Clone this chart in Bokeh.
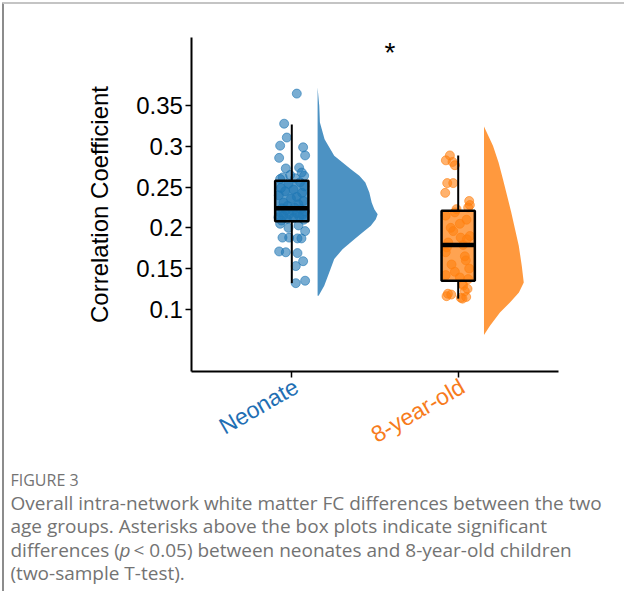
from bokeh.plotting import figure
from bokeh.models import Range1d, FixedTicker
from bokeh.embed import file_html
from bokeh.resources import INLINE
from bokeh.core.properties import value

# ---------------- data ----------------
groups = ["Neonate", "8-year-old"]
group_pos = [1, 2]
group_colors = ["#1f77b4", "#ff7f0e"]
label_colors = ["#1f6fb4", "#f77b1c"]

neonate_values = [0.365, 0.328, 0.311, 0.301, 0.299, 0.289, 0.286, 0.274, 0.273, 0.268,
                  0.265, 0.264, 0.262, 0.261, 0.260,
                  0.256, 0.254, 0.251, 0.249, 0.247, 0.245, 0.243, 0.240, 0.238, 0.236,
                  0.233, 0.231, 0.229, 0.227, 0.225, 0.224,
                  0.223, 0.222, 0.221, 0.220, 0.219, 0.218, 0.217, 0.216, 0.215, 0.214,
                  0.213, 0.212, 0.211, 0.210, 0.209,
                  0.205, 0.203, 0.200, 0.196, 0.188, 0.188, 0.187, 0.187, 0.171, 0.170,
                  0.169, 0.159, 0.153, 0.135, 0.132]
neonate_jitter = [0.030, -0.046, -0.030, -0.070, 0.068, 0.080, -0.076, 0.044, -0.036, 0.060,
                  -0.010, 0.074, -0.055, 0.020, -0.070,
                  0.050, -0.020, 0.075, -0.065, 0.010, -0.040, 0.062, -0.078, 0.030, -0.005,
                  0.070, -0.050, 0.040, -0.025, 0.015, -0.060,
                  0.055, -0.035, 0.005, 0.078, -0.072, 0.030, -0.015, 0.065, -0.050, 0.045,
                  -0.080, 0.010, -0.030, 0.072, -0.062,
                  -0.070, 0.040, -0.020, 0.080, -0.056, -0.016, 0.034, 0.058, -0.076, -0.036,
                  0.034, 0.068, 0.024, 0.080, 0.024]

child_values = [0.289, 0.283, 0.281, 0.277, 0.255, 0.255, 0.243, 0.233, 0.228, 0.225, 0.223,
                0.219, 0.215, 0.210, 0.205, 0.200, 0.196, 0.190, 0.188, 0.186, 0.182,
                0.179,
                0.176, 0.170, 0.165, 0.160, 0.155, 0.150, 0.146, 0.142, 0.139, 0.137,
                0.131, 0.129, 0.125, 0.122, 0.119, 0.118, 0.116, 0.114, 0.113, 0.115]
child_jitter = [-0.050, -0.074, -0.034, -0.020, -0.066, -0.030, -0.078, 0.066, 0.070, 0.060, -0.010,
                -0.020, -0.075, 0.050, 0.010, -0.045, -0.030, 0.070, 0.015, 0.052, -0.060,
                0.030,
                -0.068, -0.075, 0.040, 0.046, -0.040, 0.066, -0.020, -0.075, 0.010, 0.060,
                0.026, 0.030, 0.056, 0.040, -0.062, -0.042, -0.070, 0.016, 0.026, 0.048]

# box statistics
box_low = [0.132, 0.113]
box_q1 = [0.208, 0.135]
box_med = [0.224, 0.179]
box_q3 = [0.258, 0.221]
box_high = [0.327, 0.289]

# half-violin outlines (value, half width in x units)
neonate_density_y = [0.3725, 0.350, 0.3295, 0.309, 0.2886, 0.2721, 0.264, 0.2558, 0.2435, 0.2312,
                     0.223, 0.2168, 0.2107, 0.2026, 0.1944, 0.1861, 0.1738, 0.1616, 0.1452,
                     0.1289, 0.1166]
neonate_density_w = [0.0, 0.010, 0.014, 0.042, 0.100, 0.200, 0.251, 0.287, 0.311, 0.325,
                     0.341, 0.361, 0.350, 0.320, 0.270, 0.221, 0.150, 0.100, 0.070,
                     0.040, 0.006]
child_density_y = [0.3246, 0.3009, 0.2800, 0.2598, 0.2189, 0.178, 0.1534, 0.1329, 0.1206,
                   0.1083, 0.0961, 0.0797, 0.0682]
child_density_w = [0.0, 0.054, 0.088, 0.114, 0.164, 0.209, 0.227, 0.239, 0.210,
                   0.156, 0.096, 0.036, 0.0]

ytick_values = [0.1, 0.15, 0.2, 0.25, 0.3, 0.35]
ytick_labels = ["0.1", "0.15", "0.2", "0.25", "0.3", "0.35"]
y_label = "Correlation Coefficient"
x_limits = (0.4, 2.6)
y_limits = (0.0236, 0.434)

signif_label = "*"
signif_x = 1.59
signif_y = 0.4155

caption_title = "FIGURE 3"
caption_lines = [
    "Overall intra-network white matter FC differences between the two",
    "age groups. Asterisks above the box plots indicate significant",
]
caption_line3 = ["differences (", "p", "< 0.05) between neonates and 8-year-old children"]
caption_line4 = "(two-sample T-test)."

# ---------------- canvas geometry (page pixels -> data) ----------------
FIG_W, FIG_H = 624, 591
XL, XR = -0.7506, 2.9994
YB, YT = -0.24697, 0.47943


def px2x(px):
    return XL + (px - 8) * (XR - XL) / FIG_W


def py2y(py):
    return YT - (py - 8) * (YT - YB) / FIG_H


FONT = "Liberation Sans"
p = figure(width=FIG_W, height=FIG_H, x_range=Range1d(XL, XR), y_range=Range1d(YB, YT),
           output_backend="svg", toolbar_location=None, min_border=0)
p.grid.visible = False
p.outline_line_color = None
p.background_fill_color = "white"
p.border_fill_color = "white"

for ax in (p.xaxis[0], p.yaxis[0]):
    ax.axis_line_width = 2
    ax.axis_line_color = "black"
    ax.major_tick_line_width = 1.5
    ax.major_tick_line_color = "black"
    ax.major_tick_out = 6
    ax.major_tick_in = 0
    ax.minor_tick_line_color = None
    ax.major_label_text_font = FONT
    ax.major_label_text_font_size = "24px"
    ax.major_label_text_color = "black"

p.yaxis.fixed_location = x_limits[0]
p.yaxis.bounds = y_limits
p.yaxis.ticker = FixedTicker(ticks=ytick_values)
p.yaxis.major_label_overrides = {v: l for v, l in zip(ytick_values, ytick_labels)}
p.yaxis.major_label_standoff = 3
p.yaxis.axis_label = y_label
p.yaxis.axis_label_text_font = FONT
p.yaxis.axis_label_text_font_size = "24px"
p.yaxis.axis_label_text_font_style = "normal"
p.yaxis.axis_label_text_color = "black"
p.yaxis.axis_label_standoff = 20

p.xaxis.fixed_location = y_limits[0]
p.xaxis.bounds = x_limits
p.xaxis.ticker = FixedTicker(ticks=group_pos)
p.xaxis.major_label_overrides = {g: "" for g in group_pos}

# figure frame border lines (grey, as in the source page)
p.segment(x0=[px2x(10.5)], y0=[py2y(10)], x1=[px2x(10.5)], y1=[py2y(607)],
          line_color="#8c8c8c", line_width=2)
p.segment(x0=[px2x(10)], y0=[py2y(10.5)], x1=[px2x(640)], y1=[py2y(10.5)],
          line_color="#c4c4c4", line_width=2)

violin_offset = 0.155
box_half = 0.1

sets = [(neonate_values, neonate_jitter, neonate_density_y, neonate_density_w),
        (child_values, child_jitter, child_density_y, child_density_w)]

for i, (vals, jit, dy, dw) in enumerate(sets):
    pos = group_pos[i]
    col = group_colors[i]
    base = pos + violin_offset
    xs = [base + w for w in dw]
    p.patch(x=[base] + xs + [base], y=[dy[0]] + dy + [dy[-1]],
            fill_color=col, fill_alpha=0.8, line_color=None)
    p.scatter(x=[pos + j for j in jit], y=vals, size=9, marker="circle",
              fill_color=col, fill_alpha=0.6, line_color=col, line_alpha=0.6)
    p.segment(x0=[pos, pos], y0=[box_low[i], box_q3[i]], x1=[pos, pos], y1=[box_q1[i], box_high[i]],
              line_color="black", line_width=2)
    p.quad(left=[pos - box_half], right=[pos + box_half], bottom=[box_q1[i]], top=[box_q3[i]],
           fill_color=col, fill_alpha=0.72, line_color="black", line_width=2.5)
    p.segment(x0=[pos - box_half], y0=[box_med[i]], x1=[pos + box_half], y1=[box_med[i]],
              line_color="black", line_width=4.5)

# category labels of the x axis, rotated and coloured
p.text(x=group_pos, y=[y_limits[0]] * len(group_pos), text=groups, text_color=label_colors,
       angle=30, angle_units="deg", x_offset=-2, y_offset=2,
       text_align="right", text_baseline="top", text_font=value(FONT), text_font_size="23px")

p.text(x=[signif_x], y=[signif_y], text=[signif_label], text_font=value(FONT),
       text_font_size="28px", text_align="center", text_baseline="middle", text_color="black")

# ---------------- caption ----------------
CFONT = "Open Sans"
CCOL = "#737373"
CSIZE = "19px"
p.text(x=[px2x(18)], y=[py2y(487)], text=[caption_title], text_font=value(CFONT),
       text_font_size="16px", text_color=CCOL, text_baseline="middle", text_align="left")
p.text(x=[px2x(18)] * 2, y=[py2y(510), py2y(533)], text=caption_lines, text_font=value(CFONT),
       text_font_size=CSIZE, text_color=CCOL, text_baseline="middle", text_align="left")
p.text(x=[px2x(18)], y=[py2y(557)], text=[caption_line3[0]], text_font=value(CFONT),
       text_font_size=CSIZE, text_color=CCOL, text_baseline="middle", text_align="left")
p.text(x=[px2x(127)], y=[py2y(557)], text=[caption_line3[1]], text_font=value(CFONT),
       text_font_size=CSIZE, text_font_style="italic", text_color=CCOL,
       text_baseline="middle", text_align="left")
p.text(x=[px2x(141)], y=[py2y(557)], text=[caption_line3[2]], text_font=value(CFONT),
       text_font_size=CSIZE, text_color=CCOL, text_baseline="middle", text_align="left")
p.text(x=[px2x(18)], y=[py2y(580)], text=[caption_line4], text_font=value(CFONT),
       text_font_size=CSIZE, text_color=CCOL, text_baseline="middle", text_align="left")

open("out.html", "w").write(file_html(p, INLINE))
